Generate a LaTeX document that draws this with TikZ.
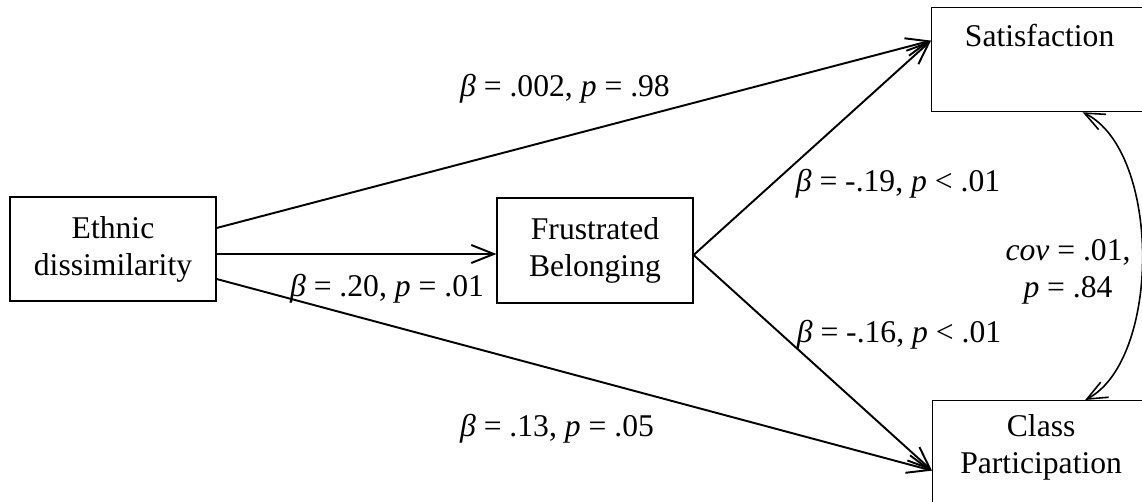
\documentclass[tikz,border=0pt]{standalone}
\usepackage{fontspec}
\setmainfont{Liberation Serif}
\usetikzlibrary{arrows.meta,positioning}

\begin{document}
\begin{tikzpicture}[
  x=0.2mm, y=-0.2mm,
  box/.style={draw, line width=0.7pt, align=center, inner sep=0pt, font=\fontsize{18}{21}\selectfont},
  txt/.style={align=center, inner sep=0pt, font=\fontsize{18}{21}\selectfont},
  coef/.style={inner sep=0pt, font=\fontsize{18}{21}\selectfont},
  eff/.style={line width=1.1pt, -{Straight Barb[length=4.5mm, width=3.6mm]}},
  cov/.style={line width=0.9pt, {Straight Barb[length=4mm, width=3.4mm]}-{Straight Barb[length=4mm, width=3.4mm]}}
]
\useasboundingbox (0,0) rectangle (1142,502);
\clip (0,0) rectangle (1142,502);

\node[box, minimum width=41.2mm, minimum height=20.8mm] (eth) at (113,249) {Ethnic\\dissimilarity};
\node[box, minimum width=39.2mm, minimum height=21mm] (fru) at (595,250.5) {Frustrated\\Belonging};
\node[box, minimum width=43.2mm, minimum height=20.8mm, anchor=north west] (sat) at (931,7) {};
\node[txt, below=3.4mm of sat.north] (sattxt) {Satisfaction};
\node[box, minimum width=43.4mm, minimum height=24mm, anchor=north west] (cls) at (932,400) {};
\node[txt, below=2.8mm of cls.north] (clstxt) {Class\\Participation};

\coordinate (satin) at ([yshift=3.8mm]sat.west);
\coordinate (clsin) at ([yshift=-2mm]cls.west);
\coordinate (frout) at ([yshift=-0.9mm]fru.east);
\coordinate (satcov) at ([xshift=8.6mm]sat.south);
\coordinate (clscov) at ([xshift=8.8mm]cls.north);

\draw[eff] ([yshift=4.2mm]eth.east) -- (satin);
\draw[eff] ([yshift=-1mm]eth.east) -- ([yshift=-0.7mm]fru.west);
\draw[eff] ([yshift=-6mm]eth.east) -- (clsin);
\draw[eff] (frout) -- (satin);
\draw[eff] (frout) -- (clsin);
\draw[cov] (satcov) .. controls +(79,39) and +(76,-40) .. (clscov);

\node[coef] (b1) at (565,89) {{\itshape β} = .002, {\itshape p} = .98};
\node[coef] (b2) at (898,184) {{\itshape β} = -.19, {\itshape p} < .01};
\node[coef] (b3) at (387,289) {{\itshape β} = .20, {\itshape p} = .01};
\node[coef] (b4) at (899,335) {{\itshape β} = -.16, {\itshape p} < .01};
\node[coef] (b5) at (557,429) {{\itshape β} = .13, {\itshape p} = .05};
\node[coef, align=center] (cv) at (1068,272) {{\itshape cov} = .01,\\{\itshape p} = .84};
\end{tikzpicture}
\end{document}
